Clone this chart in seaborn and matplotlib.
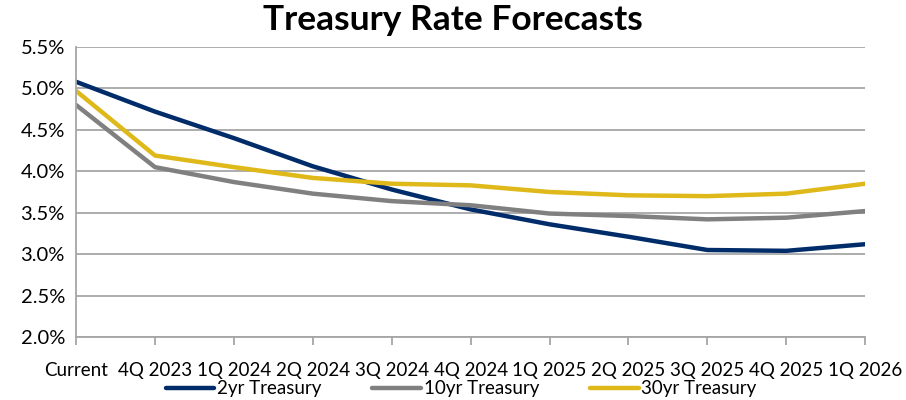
import matplotlib
matplotlib.use("Agg")
import matplotlib.pyplot as plt
import seaborn as sns
import pandas as pd
from matplotlib.ticker import FuncFormatter, MultipleLocator

categories = ["Current", "4Q 2023", "1Q 2024", "2Q 2024", "3Q 2024", "4Q 2024",
              "1Q 2025", "2Q 2025", "3Q 2025", "4Q 2025", "1Q 2026"]
two_yr = [5.08, 4.72, 4.40, 4.06, 3.78, 3.54, 3.36, 3.21, 3.05, 3.04, 3.12]
ten_yr = [4.80, 4.05, 3.87, 3.73, 3.64, 3.59, 3.49, 3.46, 3.42, 3.44, 3.52]
thirty_yr = [4.97, 4.19, 4.05, 3.92, 3.85, 3.83, 3.75, 3.71, 3.70, 3.73, 3.85]
series_names = ["2yr Treasury", "10yr Treasury", "30yr Treasury"]
colors = ["#002D6A", "#808080", "#DFB81A"]

rows = []
for name, vals in zip(series_names, [two_yr, ten_yr, thirty_yr]):
    for i, (c, v) in enumerate(zip(categories, vals)):
        rows.append({"Quarter": c, "pos": i, "Rate": v, "Series": name})
df = pd.DataFrame(rows)

sns.set_theme(style="white")
plt.rcParams['font.family'] = ['Lato', 'DejaVu Sans']
plt.rcParams['text.color'] = 'black'

fig = plt.figure(figsize=(9.06, 4.0), dpi=100)
ax = fig.add_axes([0.084, 0.1575, 0.871, 0.725])

sns.lineplot(data=df, x="pos", y="Rate", hue="Series", palette=colors,
             hue_order=series_names, linewidth=3.2, ax=ax, sort=False, legend=True)

ax.set_xlim(0, len(categories) - 1)
ax.set_ylim(2.0, 5.5)
ax.yaxis.set_major_locator(MultipleLocator(0.5))
ax.yaxis.set_major_formatter(FuncFormatter(lambda v, p: f"{v:.1f}%"))
ax.set_xticks(range(len(categories)))
ax.set_xticklabels(categories)
ax.set_xlabel("")
ax.set_ylabel("")
ax.grid(axis="y", color="#a6a6a6", linewidth=1.3)
ax.set_axisbelow(True)
for s in ["top", "right"]:
    ax.spines[s].set_visible(False)
for s in ["left", "bottom"]:
    ax.spines[s].set_color("#a6a6a6")
    ax.spines[s].set_linewidth(1.3)
ax.tick_params(axis="x", which="major", length=6, width=1.3, color="#a6a6a6",
               direction="out", bottom=True, labelsize=13.5, pad=12, labelcolor="black")
ax.tick_params(axis="y", length=0, labelsize=14.5, pad=8, labelcolor="black")

fig.suptitle("Treasury Rate Forecasts", fontsize=25.5, fontweight="bold", y=0.99, x=0.5,
             color="black")

handles, labels = ax.get_legend_handles_labels()
ax.legend(handles, labels, loc="center", bbox_to_anchor=(0.488, -0.178),
          ncol=3, frameon=False, fontsize=13.5, handlelength=2.6, columnspacing=2.7,
          handletextpad=0.15, labelcolor="black", borderaxespad=0, borderpad=0.0)

fig.savefig("out.png", dpi=100)
